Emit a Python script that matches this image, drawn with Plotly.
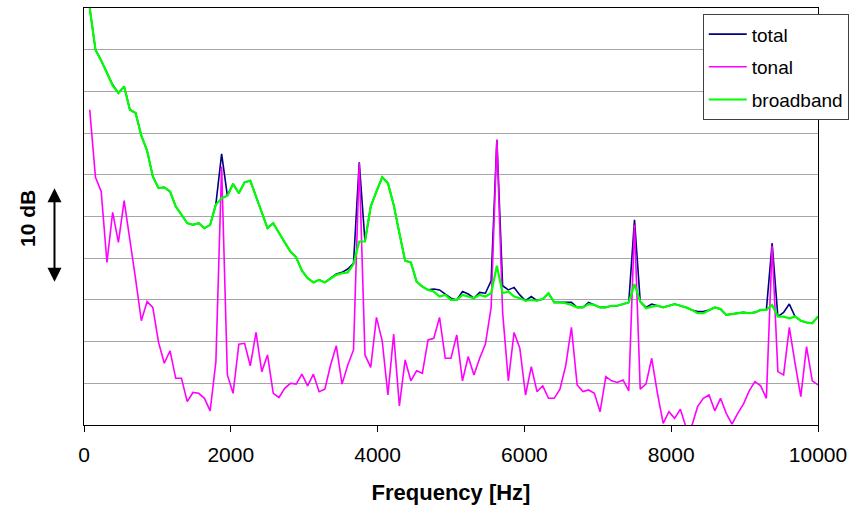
import numpy as np
import plotly.graph_objects as go

# frequency resolution 78.125 Hz, bins 1..128
df_hz = 78.125
freq = [df_hz * k for k in range(1, 129)]

# relative levels in dB (5 dB per grid division)
tonal = [37.8, 29.7, 28.0, 19.5, 25.5, 21.9, 26.9, 22.4, 17.5, 12.5,
         14.8, 14.1, 9.9, 7.4, 8.9, 5.6, 5.6, 2.8, 3.9, 3.8,
         3.2, 1.7, 7.6, 31.0, 6.0, 3.8, 9.7, 9.8, 7.1, 11.1,
         6.4, 8.4, 3.8, 3.3, 4.4, 5.0, 4.9, 6.1, 4.7, 6.1,
         4.0, 4.3, 7.2, 9.5, 4.9, 7.2, 9.0, 31.4, 8.4, 6.9,
         12.9, 10.1, 3.6, 10.9, 2.3, 7.8, 5.3, 6.5, 6.2, 10.2,
         10.4, 12.9, 8.0, 8.0, 10.8, 5.3, 8.2, 6.0, 8.0, 9.7,
         14.1, 34.2, 13.5, 5.3, 11.1, 9.2, 3.6, 7.0, 4.0, 4.7,
         3.2, 3.2, 4.3, 7.1, 11.7, 4.8, 4.0, 4.2, 3.8, 1.6,
         5.8, 5.3, 5.1, 5.4, 4.1, 24.0, 4.3, 4.9, 8.0, 3.8,
         0.2, 1.6, 0.8, 1.9, -0.3, -0.1, 2.2, 3.2, 3.6, 1.7,
         3.2, 1.4, 0.1, 1.4, 2.5, 4.1, 5.2, 4.7, 3.2, 21.5,
         6.4, 6.0, 11.7, 7.4, 3.4, 9.4, 5.3, 4.8]

broadband = [50.0, 45.0, 43.7, 42.3, 40.7, 39.8, 40.6, 37.8, 37.4, 34.7,
             32.9, 29.8, 28.4, 28.5, 28.0, 26.2, 25.2, 24.2, 24.0, 24.2,
             23.6, 24.0, 26.4, 27.2, 27.5, 28.9, 27.8, 29.1, 29.3, 27.4,
             25.3, 23.6, 24.2, 23.0, 21.9, 20.8, 20.1, 18.5, 17.6, 17.1,
             17.4, 17.1, 17.6, 18.0, 18.2, 18.3, 19.3, 22.0, 22.0, 26.2,
             28.0, 29.7, 29.0, 26.4, 23.0, 19.7, 19.5, 17.2, 16.6, 16.2,
             16.0, 15.4, 15.6, 15.0, 15.0, 15.6, 15.4, 15.2, 15.6, 15.4,
             15.8, 19.1, 15.8, 16.0, 15.4, 15.2, 14.9, 15.0, 14.9, 15.1,
             15.8, 14.7, 14.7, 14.6, 14.4, 14.1, 14.1, 14.5, 14.4, 14.1,
             14.1, 14.3, 14.3, 14.5, 14.7, 16.9, 14.8, 14.0, 14.2, 14.3,
             14.1, 14.3, 14.5, 14.3, 14.1, 13.8, 13.4, 13.4, 13.8, 14.1,
             13.9, 13.2, 13.3, 13.4, 13.5, 13.4, 13.5, 13.8, 13.8, 14.4,
             13.0, 13.0, 12.8, 13.0, 12.5, 12.3, 12.2, 13.0]

total = [50.0, 45.0, 43.7, 42.3, 40.8, 39.8, 40.6, 37.8, 37.4, 34.7,
         32.9, 29.8, 28.4, 28.5, 28.0, 26.2, 25.2, 24.2, 24.0, 24.2,
         23.6, 24.0, 26.5, 32.5, 27.5, 28.9, 27.8, 29.1, 29.3, 27.4,
         25.3, 23.6, 24.2, 23.0, 21.9, 20.8, 20.1, 18.5, 17.6, 17.1,
         17.4, 17.1, 17.6, 18.1, 18.3, 18.7, 19.4, 31.5, 22.0, 26.2,
         28.0, 29.7, 29.0, 26.4, 23.0, 19.7, 19.5, 17.2, 16.6, 16.2,
         16.3, 16.2, 15.7, 15.2, 15.0, 16.0, 15.7, 15.2, 15.9, 15.8,
         17.3, 34.2, 16.7, 16.2, 16.5, 15.6, 14.9, 15.4, 14.9, 15.1,
         15.8, 14.7, 14.7, 14.7, 14.7, 14.1, 14.1, 14.7, 14.4, 14.1,
         14.1, 14.3, 14.3, 14.5, 14.7, 24.6, 14.8, 14.1, 14.5, 14.3,
         14.1, 14.3, 14.5, 14.3, 14.1, 13.8, 13.6, 13.6, 13.8, 14.1,
         13.9, 13.2, 13.3, 13.4, 13.5, 13.4, 13.5, 13.8, 13.8, 21.8,
         13.0, 13.5, 14.5, 13.0, 12.5, 12.3, 12.2, 13.0]

x_ticks = [0, 2000, 4000, 6000, 8000, 10000]
x_tick_labels = ["0", "2000", "4000", "6000", "8000", "10000"]

FONT = "Liberation Sans, Arial, sans-serif"

fig = go.Figure()
fig.add_trace(go.Scatter(x=freq, y=total, mode="lines", name="total",
                         line=dict(color="#000080", width=1.6), legendgroup="a"))
fig.add_trace(go.Scatter(x=freq, y=tonal, mode="lines", name="tonal",
                         line=dict(color="#ff00ff", width=1.6), legendgroup="b"))
fig.add_trace(go.Scatter(x=freq, y=broadband, mode="lines", name="broadband",
                         line=dict(color="#00ff00", width=2.2), legendgroup="c"))

fig.update_layout(
    width=851, height=514,
    margin=dict(l=84, r=33, t=8, b=89, autoexpand=False),
    paper_bgcolor="white", plot_bgcolor="white",
    font=dict(family=FONT, size=20, color="black"),
    showlegend=True,
    legend=dict(x=0.843, y=0.985, xanchor="left", yanchor="top",
                bgcolor="white", bordercolor="#404040", borderwidth=1,
                font=dict(size=19), itemwidth=38, tracegroupgap=5,
                traceorder="grouped"),
    xaxis=dict(range=[0, 10000], tickvals=x_ticks, ticktext=x_tick_labels,
               ticks="outside", ticklen=6, ticklabelstandoff=5,
               tickcolor="black", showgrid=False, zeroline=False,
               showline=True, linecolor="black", linewidth=1, mirror=True,
               tickfont=dict(size=21), automargin=False,
               title=dict(text="<b>Frequency [Hz]</b>", font=dict(size=22), standoff=19)),
    yaxis=dict(range=[0, 50], dtick=5, showticklabels=False, ticks="",
               showgrid=True, gridcolor="#a6a6a6", gridwidth=1, zeroline=False,
               showline=True, linecolor="black", linewidth=1, mirror=True,
               automargin=False),
)

# "10 dB" scale label with double arrow
fig.add_annotation(xref="paper", yref="paper", x=-0.078, y=0.496,
                   xanchor="center", yanchor="middle",
                   text="<b>10 dB</b>", textangle=-90, showarrow=False,
                   font=dict(size=21, family=FONT))
fig.add_annotation(xref="paper", yref="paper", x=-0.0402, y=0.568,
                   ax=0, ay=95, axref="pixel", ayref="pixel",
                   text="", showarrow=True, arrowhead=2, arrowside="end+start",
                   arrowsize=1.4, arrowwidth=2, arrowcolor="black", standoff=0,
                   startstandoff=0)

fig.write_html("out.html")
